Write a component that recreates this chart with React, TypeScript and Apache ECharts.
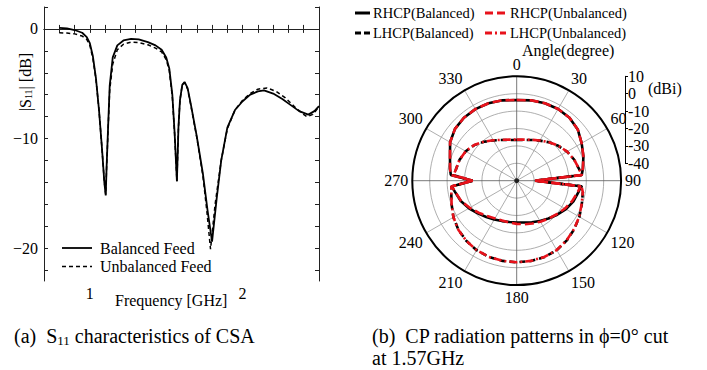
import React, { useEffect, useRef } from "react";
import * as echarts from "echarts";

// ---------- Left chart: |S11| vs frequency ----------
const freqBal = [0.80, 0.85, 0.90, 0.95, 0.98, 1.00, 1.02, 1.04, 1.06, 1.08, 1.095, 1.104, 1.11, 1.12, 1.13, 1.15, 1.18, 1.22, 1.27, 1.32, 1.38, 1.43, 1.47, 1.50, 1.52, 1.54, 1.555, 1.57, 1.58, 1.59, 1.605, 1.62, 1.64, 1.66, 1.70, 1.74, 1.77, 1.80, 1.83, 1.86, 1.90, 1.95, 2.00, 2.05, 2.10, 2.14, 2.20, 2.26, 2.32, 2.37, 2.43, 2.47, 2.50];
const s11Bal = [0.1, 0.05, -0.1, -0.35, -0.75, -1.3, -2.5, -4.5, -7.4, -11.0, -14.0, -15.2, -12.5, -8.8, -5.2, -2.6, -1.5, -1.05, -0.9, -0.95, -1.2, -1.5, -1.9, -2.6, -3.6, -6.0, -9.5, -13.9, -9.0, -6.5, -5.1, -4.84, -5.4, -6.8, -9.8, -13.2, -16.5, -19.4, -15.5, -12.0, -9.0, -7.4, -6.6, -6.0, -5.7, -5.6, -5.9, -6.4, -7.0, -7.5, -7.82, -7.5, -7.05];
const freqUnbal = [0.80, 0.85, 0.90, 0.95, 0.98, 1.00, 1.02, 1.04, 1.06, 1.08, 1.095, 1.104, 1.11, 1.12, 1.13, 1.15, 1.18, 1.22, 1.27, 1.32, 1.38, 1.43, 1.47, 1.50, 1.52, 1.54, 1.555, 1.57, 1.58, 1.59, 1.605, 1.62, 1.64, 1.66, 1.70, 1.74, 1.765, 1.79, 1.82, 1.86, 1.90, 1.95, 2.00, 2.05, 2.10, 2.16, 2.22, 2.28, 2.34, 2.39, 2.42, 2.46, 2.50];
const s11Unbal = [-0.35, -0.38, -0.45, -0.65, -0.95, -1.5, -2.7, -4.6, -7.4, -11.0, -14.0, -15.1, -12.5, -9.0, -5.6, -3.2, -1.9, -1.4, -1.2, -1.25, -1.45, -1.75, -2.1, -2.8, -3.8, -6.2, -9.6, -13.9, -9.0, -6.5, -5.1, -4.9, -5.5, -6.9, -9.9, -13.4, -16.5, -20.1, -16.0, -12.0, -9.1, -7.4, -6.5, -5.9, -5.5, -5.38, -5.7, -6.3, -7.1, -7.7, -8.0, -7.8, -7.1];
const xTickLabels = [1, 2];
const yTickLabels = [0, -10, -20];

// ---------- Right chart: CP radiation pattern (dBi) ----------
const patAngles = [0, 10, 20, 30, 40, 50, 60, 70, 80, 85, 90, 95, 100, 110, 120, 130, 140, 150, 160, 170, 180, 190, 200, 210, 220, 230, 240, 250, 260, 265, 270, 275, 280, 290, 300, 310, 320, 330, 340, 350, 360];
const rhcpBal = [-3.6, -3.1, -2.6, -2.4, -2.8, -4.2, -6.9, -9.2, -11.4, -12.5, -39.5, -13.0, -13.8, -15.3, -17.3, -19.6, -21.6, -23.3, -24.6, -25.6, -26.0, -25.9, -25.3, -24.2, -22.8, -20.8, -18.3, -15.8, -13.9, -12.5, -24.7, -12.0, -11.1, -9.2, -5.8, -3.7, -2.8, -2.5, -2.6, -3.1, -3.6];
const rhcpUnbal = [-3.6, -3.1, -2.6, -2.4, -2.8, -4.2, -6.9, -9.2, -11.4, -12.5, -39.5, -13.2, -14.2, -16.0, -18.0, -20.0, -21.6, -22.8, -23.8, -24.6, -25.2, -25.6, -25.6, -25.0, -23.6, -21.4, -18.8, -16.0, -14.0, -12.5, -24.7, -12.0, -11.1, -9.2, -5.8, -3.7, -2.8, -2.5, -2.6, -3.1, -3.6];
const lhcpBal = [-26.6, -26.2, -25.1, -23.4, -21.2, -18.8, -16.6, -14.8, -13.4, -12.6, -39.5, -12.6, -11.4, -10.2, -8.4, -6.8, -5.2, -3.9, -3.3, -3.1, -3.1, -3.2, -3.4, -3.9, -4.9, -6.2, -8.0, -10.2, -11.8, -12.3, -24.7, -13.5, -14.4, -15.0, -16.2, -18.2, -20.8, -23.3, -25.1, -26.2, -26.6];
const lhcpUnbal = [-26.4, -26.0, -25.0, -23.3, -21.1, -18.7, -16.5, -14.8, -13.4, -12.6, -39.5, -12.6, -11.4, -10.3, -8.5, -6.9, -5.3, -4.0, -3.4, -3.2, -3.1, -3.2, -3.4, -3.9, -4.9, -6.2, -8.0, -10.2, -11.8, -12.3, -24.7, -13.5, -14.4, -15.0, -16.1, -18.1, -20.7, -23.2, -25.0, -26.0, -26.4];
const dbiTickLabels = [10, 0, -10, -20, -30, -40];

const FONT = "'Liberation Serif', 'Times New Roman', serif";
const RED = "#e8121b";

export default function App() {
  const ref = useRef<HTMLDivElement>(null);
  useEffect(() => {
    if (!ref.current) return;
    const chart = echarts.init(ref.current, undefined, { renderer: "svg" });

    const xTicks: number[] = [];
    for (let i = 7; i <= 25; i++) xTicks.push(i / 10);
    const yTicks: number[] = [];
    for (let v = -22; v <= 2; v += 2) yTicks.push(v);

    const txt = { color: "#000", fontFamily: FONT, fontSize: 16 };
    const axisLine = { show: true, lineStyle: { color: "#222", width: 1 } };

    const polarPairs = (vals: number[]) => patAngles.map((a, i) => [vals[i], a]);

    const option: any = {
      animation: false,
      backgroundColor: "#fff",
      textStyle: { fontFamily: FONT },
      grid: [
        { left: 44, top: 7, width: 275, height: 274 },
        { left: 625, top: 76.3, width: 1, height: 87 },
      ],
      xAxis: [
        {
          gridIndex: 0, type: "value", min: 0.7, max: 2.5, position: "bottom",
          axisLine, splitLine: { show: false },
          axisTick: { show: true, inside: true, length: 4, customValues: xTicks, lineStyle: { color: "#222" } },
          axisLabel: { ...txt, margin: 4, customValues: xTickLabels, formatter: (v: number) => String(Math.round(v)) },
        },
        {
          gridIndex: 0, type: "value", min: 0.7, max: 2.5, position: "top",
          axisLine, splitLine: { show: false },
          axisTick: { show: true, inside: true, length: 4, customValues: xTicks, lineStyle: { color: "#222" } },
          axisLabel: { show: false },
        },
        { gridIndex: 1, type: "value", show: false },
      ],
      yAxis: [
        {
          gridIndex: 0, type: "value", min: -23, max: 2, position: "left",
          axisLine, splitLine: { show: false },
          axisTick: { show: true, inside: true, length: 4, customValues: yTicks, lineStyle: { color: "#222" } },
          axisLabel: { ...txt, margin: 6, customValues: yTickLabels, formatter: (v: number) => String(v).replace("-", "\u2212") },
        },
        {
          gridIndex: 0, type: "value", min: -23, max: 2, position: "right",
          axisLine, splitLine: { show: false },
          axisTick: { show: true, inside: true, length: 4, customValues: yTicks, lineStyle: { color: "#222" } },
          axisLabel: { show: false },
        },
        {
          gridIndex: 1, type: "value", min: -40, max: 10, interval: 10, position: "left",
          axisLine: { show: true, lineStyle: { color: "#000", width: 1 } },
          splitLine: { show: false },
          axisTick: { show: true, inside: true, length: 3, lineStyle: { color: "#000" } },
          axisLabel: { ...txt, inside: true, margin: 3, customValues: dbiTickLabels },
        },
      ],
      polar: { center: [516.7, 180.7], radius: 104.4 },
      angleAxis: {
        type: "value", min: 0, max: 360, interval: 30, startAngle: 90, clockwise: true,
        axisLine: { show: true, lineStyle: { color: "#000", width: 2 } },
        axisTick: { show: false },
        axisLabel: { ...txt, margin: 4, formatter: (v: number) => (v === 360 ? "" : String(v)) },
        splitLine: { show: true, lineStyle: { color: ["#555", "#999", "#999"], width: 0.8 } },
      },
      radiusAxis: {
        type: "value", min: -50, max: 10, interval: 10,
        axisLine: { show: false }, axisTick: { show: false }, axisLabel: { show: false },
        splitLine: { show: true, lineStyle: { color: "#999", width: 0.8 } },
      },
      series: [
        {
          name: "Balanced Feed", type: "line", xAxisIndex: 0, yAxisIndex: 0, symbol: "none",
          data: freqBal.map((f, i) => [f, s11Bal[i]]),
          lineStyle: { color: "#000", width: 1.8 },
        },
        {
          name: "Unbalanced Feed", type: "line", xAxisIndex: 0, yAxisIndex: 0, symbol: "none",
          data: freqUnbal.map((f, i) => [f, s11Unbal[i]]),
          lineStyle: { color: "#000", width: 1.5, type: [4, 3] },
        },
        {
          name: "RHCP(Balanced)", type: "line", coordinateSystem: "polar", symbol: "none",
          data: polarPairs(rhcpBal), lineStyle: { color: "#000", width: 2.6 },
        },
        {
          name: "LHCP(Balanced)", type: "line", coordinateSystem: "polar", symbol: "none",
          data: polarPairs(lhcpBal), lineStyle: { color: "#000", width: 2.6, type: [6, 4] },
        },
        {
          name: "RHCP(Unbalanced)", type: "line", coordinateSystem: "polar", symbol: "none",
          data: polarPairs(rhcpUnbal), lineStyle: { color: RED, width: 2.6, type: [9, 4] },
        },
        {
          name: "LHCP(Unbalanced)", type: "line", coordinateSystem: "polar", symbol: "none",
          data: polarPairs(lhcpUnbal), lineStyle: { color: RED, width: 2.6, type: [8, 3, 2, 3] },
        },
        {
          type: "scatter", coordinateSystem: "polar", symbolSize: 5, silent: true,
          data: [[-50, 0]], itemStyle: { color: "#000" },
        },
      ],
      graphic: [
        // left chart axis titles
        {
          type: "text", x: 25, y: 82, rotation: Math.PI / 2,
          style: {
            text: "|S{sub|11}| [dB]", fill: "#000", font: `16px ${FONT}`, align: "center", verticalAlign: "middle",
            rich: { sub: { fontSize: 10, fontFamily: FONT, fill: "#000", verticalAlign: "bottom", padding: [6, 0, 0, 0] } },
          },
        },
        { type: "text", x: 115, y: 300, style: { text: "Frequency [GHz]", fill: "#000", font: `16px ${FONT}`, verticalAlign: "middle" } },
        // left legend
        { type: "line", shape: { x1: 62, y1: 248, x2: 92, y2: 248 }, style: { stroke: "#000", lineWidth: 1.8 } },
        { type: "text", x: 100, y: 248, style: { text: "Balanced Feed", fill: "#000", font: `16px ${FONT}`, verticalAlign: "middle" } },
        { type: "line", shape: { x1: 62, y1: 266.5, x2: 92, y2: 266.5 }, style: { stroke: "#000", lineWidth: 1.5, lineDash: [4, 3] } },
        { type: "text", x: 100, y: 266.5, style: { text: "Unbalanced Feed", fill: "#000", font: `16px ${FONT}`, verticalAlign: "middle" } },
        // polar legend
        { type: "line", shape: { x1: 355, y1: 13, x2: 370, y2: 13 }, style: { stroke: "#000", lineWidth: 3 } },
        { type: "text", x: 373, y: 13, style: { text: "RHCP(Balanced)", fill: "#000", font: `14.5px ${FONT}`, verticalAlign: "middle" } },
        { type: "line", shape: { x1: 485, y1: 13, x2: 506, y2: 13 }, style: { stroke: RED, lineWidth: 3, lineDash: [8, 4] } },
        { type: "text", x: 510, y: 13, style: { text: "RHCP(Unbalanced)", fill: "#000", font: `14.5px ${FONT}`, verticalAlign: "middle" } },
        { type: "line", shape: { x1: 355, y1: 33, x2: 370, y2: 33 }, style: { stroke: "#000", lineWidth: 3, lineDash: [6, 3] } },
        { type: "text", x: 373, y: 33, style: { text: "LHCP(Balanced)", fill: "#000", font: `14.5px ${FONT}`, verticalAlign: "middle" } },
        { type: "line", shape: { x1: 485, y1: 33, x2: 506, y2: 33 }, style: { stroke: RED, lineWidth: 3, lineDash: [7, 3, 2, 3] } },
        { type: "text", x: 510, y: 33, style: { text: "LHCP(Unbalanced)", fill: "#000", font: `14.5px ${FONT}`, verticalAlign: "middle" } },
        { type: "text", x: 522, y: 50, style: { text: "Angle(degree)", fill: "#000", font: `16px ${FONT}`, verticalAlign: "middle" } },
        { type: "text", x: 648, y: 88, style: { text: "(dBi)", fill: "#000", font: `16px ${FONT}`, verticalAlign: "middle" } },
        // captions
        {
          type: "text", x: 14, y: 336,
          style: {
            text: "(a)  S{sub|11} characteristics of CSA", fill: "#000", font: `20px ${FONT}`, verticalAlign: "middle",
            rich: { sub: { fontSize: 13, fontFamily: FONT, fill: "#000", verticalAlign: "bottom", padding: [8, 0, 0, 0] } },
          },
        },
        { type: "text", x: 372, y: 336, style: { text: "(b)  CP radiation patterns in \u03d5=0\u00b0 cut", fill: "#000", font: `20px ${FONT}`, verticalAlign: "middle" } },
        { type: "text", x: 372, y: 358, style: { text: "at 1.57GHz", fill: "#000", font: `20px ${FONT}`, verticalAlign: "middle" } },
      ],
    };
    chart.setOption(option);
    return () => chart.dispose();
  }, []);

  return (
    <div
      ref={ref}
      style={{ position: "absolute", left: 0, top: 0, width: 707, height: 370, background: "#fff" }}
    />
  );
}
